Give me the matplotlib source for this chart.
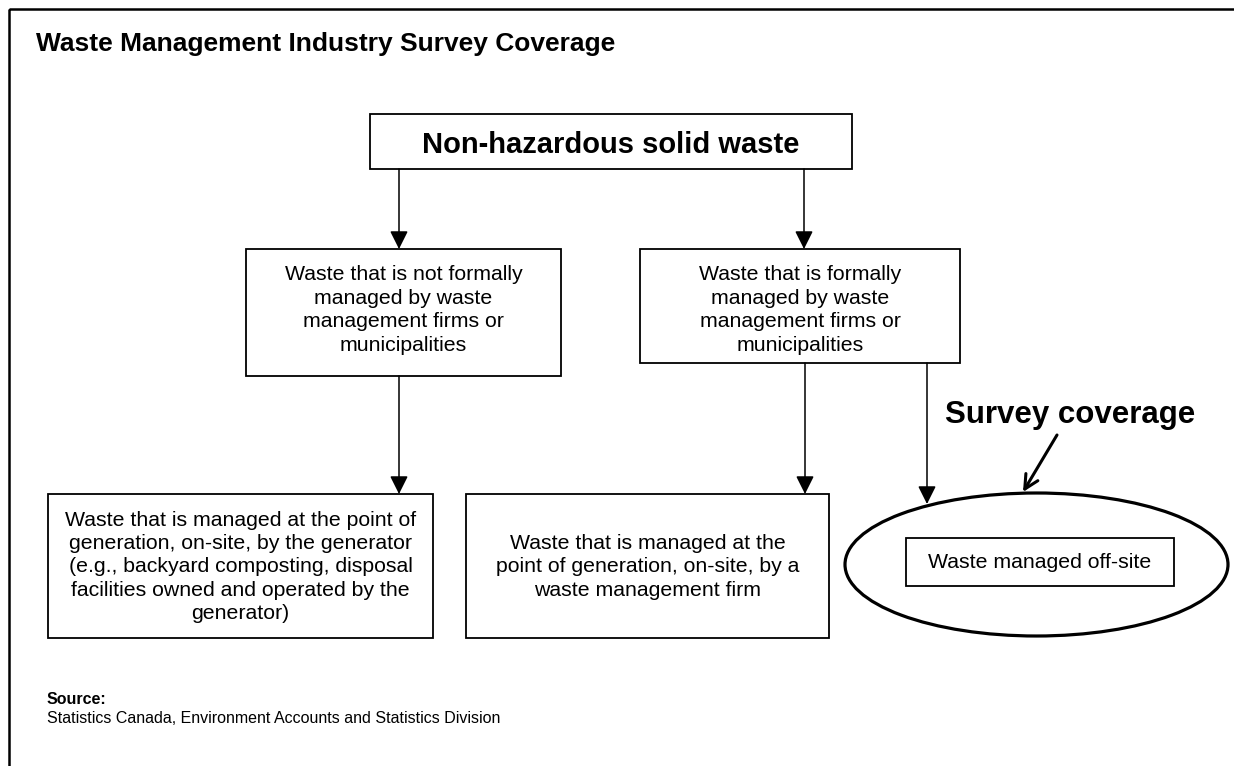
import matplotlib.pyplot as plt
from matplotlib.patches import Rectangle, Ellipse

plt.rcParams['font.family'] = ['Liberation Sans', 'DejaVu Sans']

# chart text
title = 'Waste Management Industry Survey Coverage'
root_label = 'Non-hazardous solid waste'
level2_labels = [
    'Waste that is not formally\nmanaged by waste\nmanagement firms or\nmunicipalities',
    'Waste that is formally\nmanaged by waste\nmanagement firms or\nmunicipalities',
]
level3_labels = [
    'Waste that is managed at the point of\ngeneration, on-site, by the generator\n'
    '(e.g., backyard composting, disposal\nfacilities owned and operated by the\ngenerator)',
    'Waste that is managed at the\npoint of generation, on-site, by a\nwaste management firm',
]
offsite_label = 'Waste managed off-site'
coverage_label = 'Survey coverage'
source_head = 'Source:'
source_text = 'Statistics Canada, Environment Accounts and Statistics Division'

# layout in pixels (x0, y0, x1, y1), y grows downwards
root_box = (370, 114, 852, 169)
level2_boxes = [(246, 249, 561, 376), (640, 249, 960, 363)]
level3_boxes = [(48, 494, 433, 638), (466, 494, 829, 638)]
offsite_box = (906, 538, 1174, 586)

fig = plt.figure(figsize=(12.34, 7.66), dpi=100)
ax = fig.add_axes([0, 0, 1, 1])
ax.set_xlim(0, 1234)
ax.set_ylim(766, 0)
ax.axis('off')

# outer frame (cut off at right and bottom)
ax.add_patch(Rectangle((9, 9), 1300, 800, fill=False, lw=1.8, ec='black'))


def draw_box(b, lw=1.3):
    ax.add_patch(Rectangle((b[0], b[1]), b[2] - b[0], b[3] - b[1],
                           fill=False, lw=lw, ec='black'))


def arrow(x0, y0, x1, y1):
    ax.annotate('', xy=(x1, y1), xytext=(x0, y0),
                arrowprops=dict(arrowstyle='-|>,head_length=1.1,head_width=0.55',
                                lw=1.1, color='black', shrinkA=0, shrinkB=0))


ax.text(36, 51, title, fontsize=19, fontweight='bold', ha='left', va='baseline')

draw_box(root_box)
ax.text((root_box[0] + root_box[2]) / 2, 153, root_label, fontsize=21,
        fontweight='bold', ha='center', va='baseline')

# both middle boxes start their text at the same height
for b, lab in zip(level2_boxes, level2_labels):
    draw_box(b)
    ax.text((b[0] + b[2]) / 2, 310, lab, fontsize=15.3, ha='center', va='center',
            linespacing=1.29)

for b, lab in zip(level3_boxes, level3_labels):
    draw_box(b)
    ax.text((b[0] + b[2]) / 2, (b[1] + b[3]) / 2 + 1, lab, fontsize=15.3,
            ha='center', va='center', linespacing=1.29)

# survey coverage ellipse
ax.add_patch(Ellipse((1036.5, 564.5), 383, 143, fill=False, lw=2.3, ec='black'))
draw_box(offsite_box)
ax.text((offsite_box[0] + offsite_box[2]) / 2, 562, offsite_label, fontsize=15.3,
        ha='center', va='center')
ax.text(945, 423, coverage_label, fontsize=22.5, fontweight='bold',
        ha='left', va='baseline')
ax.annotate('', xy=(1023, 492), xytext=(1057, 435),
            arrowprops=dict(arrowstyle='->,head_length=1.0,head_width=0.5',
                            lw=2.2, color='black', shrinkA=0, shrinkB=0))

# connectors
arrow(399, root_box[3], 399, level2_boxes[0][1])
arrow(804, root_box[3], 804, level2_boxes[1][1])
arrow(399, level2_boxes[0][3], 399, level3_boxes[0][1])
arrow(805, level2_boxes[1][3], 805, level3_boxes[1][1])
arrow(927, level2_boxes[1][3], 927, 504)

ax.text(47, 704, source_head, fontsize=11.5, fontweight='bold', ha='left', va='baseline')
ax.text(47, 723, source_text, fontsize=11.5, ha='left', va='baseline')

fig.savefig('out.png', dpi=100)
